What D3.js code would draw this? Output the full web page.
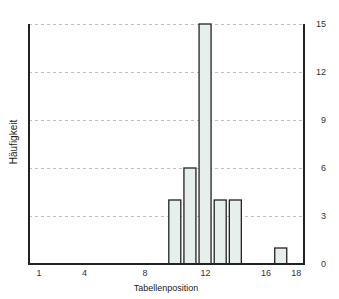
<!DOCTYPE html>
<html><head><meta charset="utf-8">
<script src="https://cdn.jsdelivr.net/npm/d3@7"></script>
<style>body{margin:0;background:#fff}svg{display:block}</style>
</head><body>
<svg id="c" width="339" height="299"></svg>
<script>
const positions = [10, 11, 12, 13, 14, 17];
const counts = [4, 6, 15, 4, 4, 1];
const xTicks = [1, 4, 8, 12, 16, 18];
const yTicks = [0, 3, 6, 9, 12, 15];
const xLabel = "Tabellenposition";
const yLabel = "Häufigkeit";

const svg = d3.select("#c");
const L = 29, R = 304, T = 24, B = 264;
const x = d3.scaleLinear().domain([0.4, 18.57]).range([L, R]);
const y = d3.scaleLinear().domain([0, 15]).range([B, T]);
const font = "Liberation Sans, Arial, sans-serif";

// gridlines
svg.append("g").selectAll("line").data(yTicks.filter(d => d > 0)).join("line")
  .attr("x1", L).attr("x2", R).attr("y1", d => y(d) + 0.5).attr("y2", d => y(d) + 0.5)
  .attr("stroke", "#c0c0c0").attr("stroke-width", 1).attr("stroke-dasharray", "3,3");

// bars
const bw = 12;
svg.append("g").selectAll("rect").data(positions).join("rect")
  .attr("x", d => x(d) - bw / 2 + 0.5)
  .attr("y", (d, i) => y(counts[i]))
  .attr("width", bw)
  .attr("height", (d, i) => y(0) - y(counts[i]))
  .attr("fill", "#e6efeb").attr("stroke", "#222").attr("stroke-width", 1.3);

// axes lines
const ax = svg.append("g").attr("stroke", "#222").attr("stroke-width", 2);
ax.append("line").attr("x1", L).attr("x2", L).attr("y1", T).attr("y2", B + 1);
ax.append("line").attr("x1", R).attr("x2", R).attr("y1", T).attr("y2", B + 1);
ax.append("line").attr("x1", L - 1).attr("x2", R + 1).attr("y1", B).attr("y2", B);

// x tick labels
svg.append("g").selectAll("text").data(xTicks).join("text")
  .attr("x", d => x(d) + 1).attr("y", 276)
  .attr("text-anchor", "middle").attr("font-family", font).attr("font-size", 9)
  .attr("fill", "#333").text(d => d);

// y tick labels (right)
svg.append("g").selectAll("text").data(yTicks).join("text")
  .attr("x", 326).attr("y", d => y(d) + 3)
  .attr("text-anchor", "end").attr("font-family", font).attr("font-size", 9)
  .attr("fill", "#333").text(d => d);

// axis titles
svg.append("text").attr("x", 166).attr("y", 291).attr("text-anchor", "middle")
  .attr("font-family", font).attr("font-size", 9).attr("fill", "#222").text(xLabel);
svg.append("text").attr("transform", "translate(17,142) rotate(-90)").attr("text-anchor", "middle")
  .attr("font-family", font).attr("font-size", 10).attr("fill", "#222").text(yLabel);
</script>
</body></html>
